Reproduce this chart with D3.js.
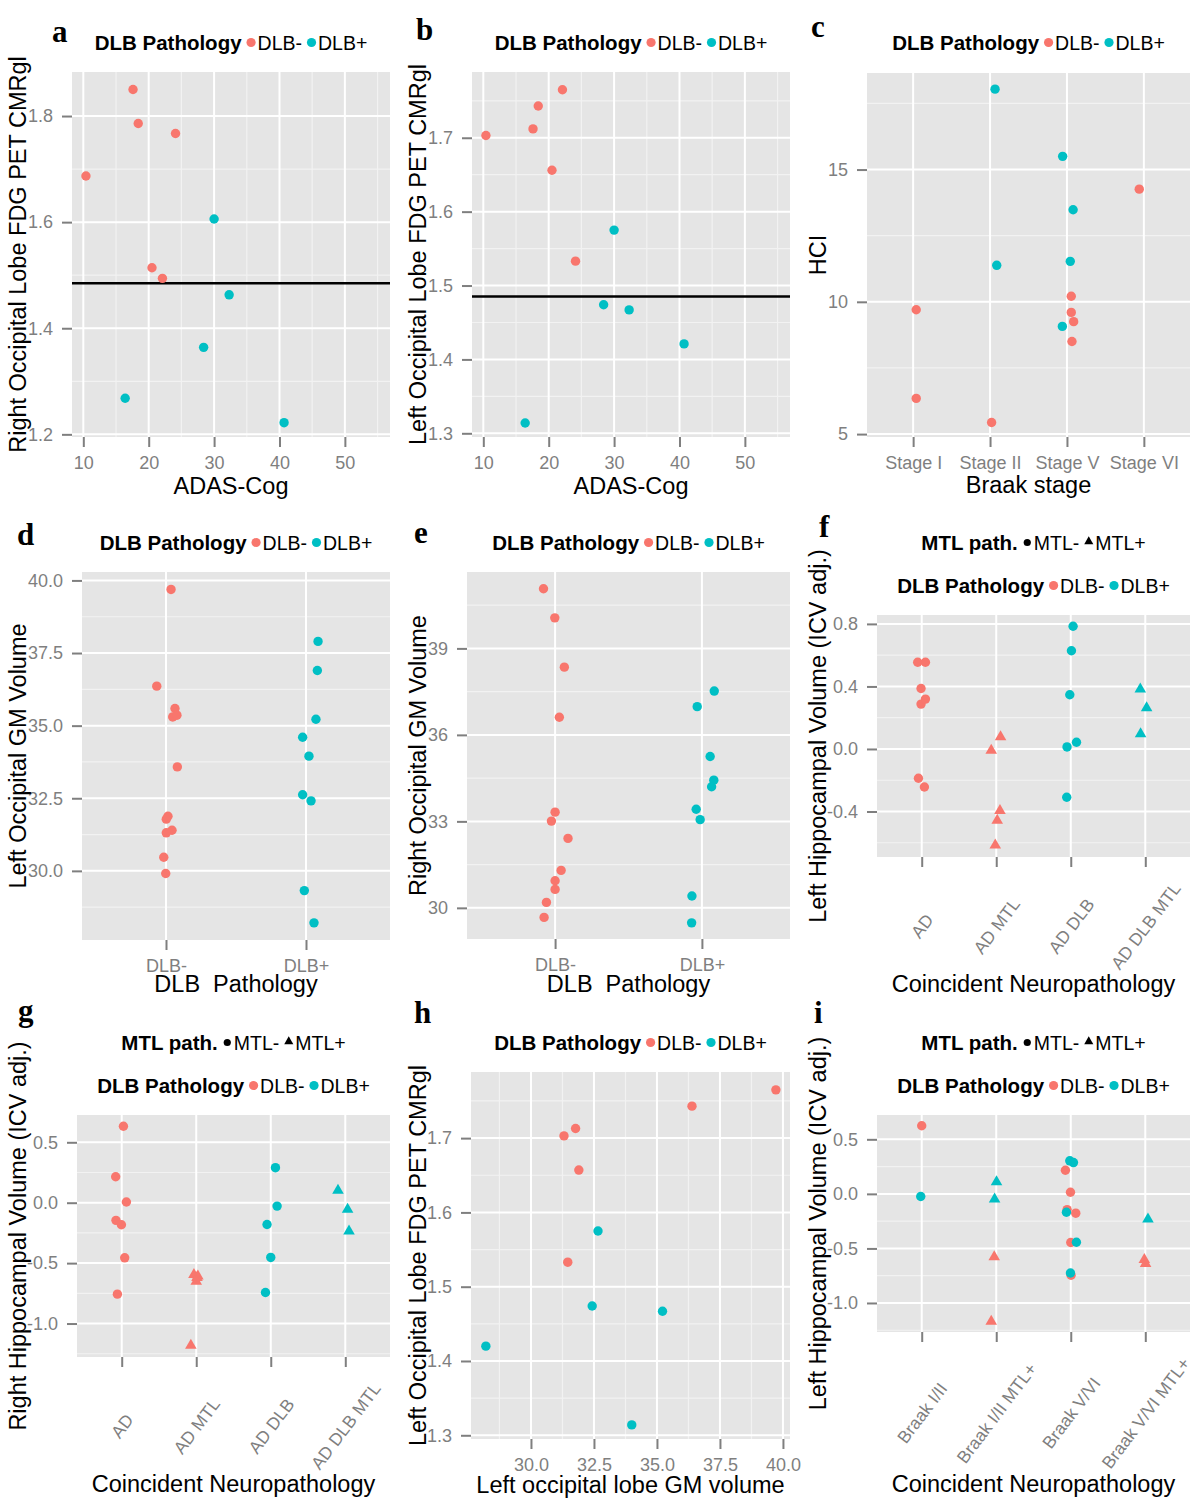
<!DOCTYPE html>
<html><head><meta charset="utf-8">
<script src="https://cdn.jsdelivr.net/npm/d3@7"></script>
<style>body{margin:0;background:#fff} svg{display:block;font-family:"Liberation Sans",Arial,sans-serif}</style>
</head><body><svg id="chart" width="1200" height="1500"></svg>
<script>
// ---------------- DATA ----------------
const dlbGroups = ["DLB-", "DLB+"];
const mtlGroups = ["MTL-", "MTL+"];
const petThreshold = 1.485;

// Panel a: ADAS-Cog vs Right occipital FDG PET CMRgl
const aAdasNeg = [17.6, 18.4, 24.1, 10.4, 20.5, 22.1];
const aRightPetNeg = [1.850, 1.786, 1.767, 1.687, 1.514, 1.494];
const aAdasPos = [30.0, 32.3, 28.4, 16.4, 40.7];
const aRightPetPos = [1.606, 1.463, 1.364, 1.268, 1.222];

// Panel b: ADAS-Cog vs Left occipital FDG PET CMRgl
const bAdasNeg = [10.4, 17.6, 18.4, 22.1, 20.5, 24.1];
const bLeftPetNeg = [1.703, 1.712, 1.743, 1.765, 1.656, 1.533];
const bAdasPos = [30.0, 28.4, 32.3, 40.7, 16.4];
const bLeftPetPos = [1.575, 1.474, 1.467, 1.421, 1.314];

// Panel c: Braak stage vs HCI
const braakStages = ["Stage I", "Stage II", "Stage V", "Stage VI"];
const cStage = ["Stage I","Stage I","Stage II","Stage II","Stage II","Stage V","Stage V","Stage V","Stage V","Stage V","Stage V","Stage V","Stage V","Stage VI"];
const cDlb = ["DLB-","DLB-","DLB+","DLB+","DLB-","DLB+","DLB+","DLB+","DLB-","DLB-","DLB-","DLB+","DLB-","DLB-"];
const cHci = [9.70, 6.35, 18.04, 11.38, 5.44, 15.50, 13.48, 11.53, 10.21, 9.60, 9.25, 9.07, 8.50, 14.26];
const cJitter = [0.04, 0.04, 0.065, 0.087, 0.02, -0.056, 0.08, 0.043, 0.056, 0.056, 0.087, -0.06, 0.065, -0.06];

// Panel d: DLB pathology vs left occipital GM volume
const dNegGM = [39.69, 36.36, 35.59, 35.30, 35.36, 33.58, 31.88, 31.78, 31.31, 31.40, 30.47, 29.91];
const dNegJitter = [0.036, -0.066, 0.064, 0.048, 0.078, 0.081, 0.014, 0.002, 0.002, 0.043, -0.016, -0.002];
const dPosGM = [37.90, 36.90, 35.22, 34.60, 33.95, 32.62, 32.41, 29.32, 28.21];
const dPosJitter = [0.086, 0.081, 0.071, -0.024, 0.021, -0.024, 0.036, -0.012, 0.057];

// Panel e: DLB pathology vs right occipital GM volume
const eNegGM = [41.07, 40.06, 38.35, 36.61, 33.32, 33.01, 32.41, 31.30, 30.94, 30.64, 30.19, 29.67];
const eNegJitter = [-0.079, -0.002, 0.063, 0.029, 0, -0.025, 0.088, 0.041, 0, 0, -0.059, -0.075];
const ePosGM = [37.52, 36.98, 35.25, 34.43, 34.20, 33.42, 33.06, 30.41, 29.48];
const ePosJitter = [0.084, -0.032, 0.056, 0.081, 0.066, -0.039, -0.012, -0.068, -0.070];

// Panels f, g: coincident neuropathology
const coincidentCats = ["AD", "AD MTL", "AD DLB", "AD DLB MTL"];
const fCat = ["AD","AD","AD","AD","AD","AD","AD","AD MTL","AD MTL","AD MTL","AD MTL","AD MTL","AD DLB","AD DLB","AD DLB","AD DLB","AD DLB","AD DLB","AD DLB MTL","AD DLB MTL","AD DLB MTL"];
const fLeftHippo = [0.555, 0.555, 0.387, 0.287, 0.319, -0.187, -0.243, 0.077, -0.009, -0.394, -0.457, -0.615, 0.785, 0.628, 0.347, 0.043, 0.013, -0.309, 0.383, 0.262, 0.096];
const fJitter = [-0.054, 0.05, -0.009, -0.009, 0.05, -0.044, 0.036, 0.058, -0.067, 0.05, 0.013, -0.013, 0.031, 0.009, -0.013, 0.077, -0.05, -0.054, -0.067, 0.018, -0.063];

const gCat = ["AD","AD","AD","AD","AD","AD","AD","AD MTL","AD MTL","AD MTL","AD MTL","AD MTL","AD DLB","AD DLB","AD DLB","AD DLB","AD DLB","AD DLB MTL","AD DLB MTL","AD DLB MTL"];
const gRightHippo = [0.633, 0.215, 0.006, -0.146, -0.182, -0.456, -0.757, -0.596, -0.608, -0.620, -0.652, -1.182, 0.290, -0.028, -0.180, -0.453, -0.743, 0.102, -0.055, -0.235];
const gJitter = [0.023, -0.081, 0.063, -0.077, -0.004, 0.04, -0.058, -0.031, 0.022, 0.01, 0, -0.072, 0.063, 0.085, -0.05, 0, -0.071, -0.098, 0.031, 0.05];

// Panel h: left occipital GM volume vs left occipital FDG PET
const hGMNeg = [39.72, 36.39, 31.77, 31.31, 31.90, 31.46];
const hPetNeg = [1.765, 1.743, 1.713, 1.703, 1.657, 1.533];
const hGMPos = [32.66, 32.43, 35.22, 28.21, 34.00];
const hPetPos = [1.575, 1.474, 1.467, 1.420, 1.314];

// Panel i: Braak / MTL categories
const braakCats = ["Braak I/II", "Braak I/II MTL+", "Braak V/VI", "Braak V/VI MTL+"];
const iCat = ["Braak I/II","Braak I/II","Braak I/II MTL+","Braak I/II MTL+","Braak I/II MTL+","Braak I/II MTL+","Braak V/VI","Braak V/VI","Braak V/VI","Braak V/VI","Braak V/VI","Braak V/VI","Braak V/VI","Braak V/VI","Braak V/VI","Braak V/VI","Braak V/VI","Braak V/VI MTL+","Braak V/VI MTL+","Braak V/VI MTL+"];
const iDlb = ["DLB-","DLB+","DLB+","DLB+","DLB-","DLB-","DLB+","DLB+","DLB-","DLB-","DLB-","DLB+","DLB-","DLB-","DLB+","DLB-","DLB+","DLB+","DLB-","DLB-"];
const iLeftHippo = [0.624, -0.024, 0.110, -0.049, -0.578, -1.168, 0.303, 0.287, 0.217, 0.015, -0.144, -0.168, -0.177, -0.446, -0.443, -0.746, -0.725, -0.232, -0.602, -0.639];
const iJitter = [0, -0.013, 0.004, -0.022, -0.027, -0.067, -0.013, 0.036, -0.072, -0.004, -0.049, -0.058, 0.067, 0, 0.076, 0.004, -0.004, 0.036, -0.013, 0.004];

// Axis ticks
const adasTicks = [10, 20, 30, 40, 50], adasMinor = [15, 25, 35, 45, 55], adasLabels = ["10","20","30","40","50"];
const aYTicks = [1.2, 1.4, 1.6, 1.8], aYMinor = [1.3, 1.5, 1.7], aYLabels = ["1.2","1.4","1.6","1.8"];
const petTicks = [1.3, 1.4, 1.5, 1.6, 1.7], petMinor = [1.35, 1.45, 1.55, 1.65, 1.75], petLabels = ["1.3","1.4","1.5","1.6","1.7"];
const hciTicks = [5, 10, 15], hciMinor = [7.5, 12.5, 17.5], hciLabels = ["5","10","15"];
const gmTicks = [30, 32.5, 35, 37.5, 40], gmMinor = [28.75, 31.25, 33.75, 36.25, 38.75], gmLabels = ["30.0","32.5","35.0","37.5","40.0"];
const eTicks = [30, 33, 36, 39], eMinor = [31.5, 34.5, 37.5, 40.5], eLabels = ["30","33","36","39"];
const fTicks = [-0.4, 0, 0.4, 0.8], fMinor = [-0.6, -0.2, 0.2, 0.6], fLabels = ["-0.4","0.0","0.4","0.8"];
const hipTicks = [-1, -0.5, 0, 0.5], hipMinor = [-1.25, -0.75, -0.25, 0.25], hipLabels = ["-1.0","-0.5","0.0","0.5"];

// ---------------- DRAWING ----------------
const FONT = '"Liberation Sans", Arial, sans-serif';
const svg = d3.select("#chart");
svg.append("rect").attr("width", 1200).attr("height", 1500).attr("fill", "#fff");
const color = d3.scaleOrdinal().domain(dlbGroups).range(["#F8766D", "#00BFC4"]);
const triPath = d3.symbol().type(d3.symbolTriangle).size(58)();
const triLegend = d3.symbol().type(d3.symbolTriangle).size(36)();

function legendRow(g, cx, baseline, title, items) {
  const row = g.append("g");
  const t = row.append("text").attr("y", baseline).attr("font-size", 20.5).attr("font-weight", "bold").attr("fill", "#000").text(title);
  let xpos = t.node().getComputedTextLength();
  items.forEach(it => {
    const kc = xpos + 9.5;
    if (it.shape === "triangle") row.append("path").attr("d", triLegend).attr("fill", it.color).attr("transform", `translate(${kc},${baseline - 8.5})`);
    else row.append("circle").attr("cx", kc).attr("cy", baseline - 7.5).attr("r", it.r).attr("fill", it.color);
    const lt = row.append("text").attr("x", kc + 6.5).attr("y", baseline).attr("font-size", 19.5).attr("fill", "#000").text(it.label);
    xpos = kc + 6.5 + lt.node().getComputedTextLength();
  });
  row.attr("transform", `translate(${cx - xpos / 2},0)`);
}

function drawPanel(p) {
  const g = svg.append("g");
  const b = p.box;
  g.append("rect").attr("x", b.x0).attr("y", b.y0).attr("width", b.x1 - b.x0).attr("height", b.y1 - b.y0).attr("fill", "#e5e5e5");
  const y = d3.scaleLinear().domain(p.yDomain).range([b.y1, b.y0]);
  const x = p.categories
    ? d3.scalePoint().domain(p.categories).range([b.x0, b.x1]).padding(0.6)
    : d3.scaleLinear().domain(p.xDomain).range([b.x0, b.x1]);

  const minor = g.append("g").attr("stroke", "#f2f2f2").attr("stroke-width", 1.2);
  minor.selectAll("line.ym").data(p.yMinor).join("line").attr("class", "ym")
    .attr("x1", b.x0).attr("x2", b.x1).attr("y1", d => y(d)).attr("y2", d => y(d));
  if (!p.categories) minor.selectAll("line.xm").data(p.xMinor).join("line").attr("class", "xm")
    .attr("y1", b.y0).attr("y2", b.y1).attr("x1", d => x(d)).attr("x2", d => x(d));
  const major = g.append("g").attr("stroke", "#fff").attr("stroke-width", 2);
  major.selectAll("line.yM").data(p.yTicks).join("line").attr("class", "yM")
    .attr("x1", b.x0).attr("x2", b.x1).attr("y1", d => y(d)).attr("y2", d => y(d));
  major.selectAll("line.xM").data(p.categories || p.xTicks).join("line").attr("class", "xM")
    .attr("y1", b.y0).attr("y2", b.y1).attr("x1", d => x(d)).attr("x2", d => x(d));

  // axes
  const ay = g.append("g").attr("transform", `translate(${b.x0},0)`)
    .call(d3.axisLeft(y).tickValues(p.yTicks).tickFormat((d, i) => p.yLabels[i]).tickSize(10).tickPadding(9));
  const xAxis = d3.axisBottom(x).tickSize(10).tickPadding(9.5);
  if (!p.categories) xAxis.tickValues(p.xTicks).tickFormat((d, i) => p.xLabels[i]);
  const ax = g.append("g").attr("transform", `translate(0,${b.y1})`).call(xAxis);
  [ay, ax].forEach(a => {
    a.attr("font-family", FONT).attr("font-size", 18);
    a.select(".domain").remove();
    a.selectAll(".tick line").attr("stroke", "#7f7f7f").attr("stroke-width", 2);
    a.selectAll(".tick text").attr("fill", "#7f7f7f");
  });
  if (p.rotate) {
    ax.selectAll(".tick text").attr("y", 0).attr("dy", "0.35em").attr("text-anchor", "middle")
      .attr("font-size", 17.5)
      .attr("transform", `translate(0,${p.rotate}) rotate(-53)`);
  }

  if (p.hline !== undefined) {
    g.append("line").attr("x1", b.x0).attr("x2", b.x1).attr("y1", y(p.hline)).attr("y2", y(p.hline))
      .attr("stroke", "#000").attr("stroke-width", 2.5);
  }

  // points
  const pts = p.points.slice().sort((a, c) => dlbGroups.indexOf(a.dlb) - dlbGroups.indexOf(c.dlb));
  const px = d => p.categories ? x(d.x) + d.j * x.step() : x(d.x);
  const circ = pts.filter(d => d.mtl !== "MTL+");
  const tris = pts.filter(d => d.mtl === "MTL+");
  g.append("g").selectAll("circle").data(circ).join("circle")
    .attr("cx", px).attr("cy", d => y(d.y)).attr("r", 4.7).attr("fill", d => color(d.dlb));
  g.append("g").selectAll("path").data(tris).join("path")
    .attr("d", triPath).attr("transform", d => `translate(${px(d)},${y(d.y)})`).attr("fill", d => color(d.dlb));

  // titles
  g.append("text").attr("x", (b.x0 + b.x1) / 2).attr("y", p.xTitleY).attr("text-anchor", "middle")
    .attr("font-size", 23.5).attr("fill", "#000").style("white-space", "pre").text(p.xTitle);
  g.append("text").attr("transform", `translate(${p.yTitleX},${(b.y0 + b.y1) / 2}) rotate(-90)`)
    .attr("text-anchor", "middle").attr("font-size", 23.5).attr("fill", "#000").text(p.yTitle);
  g.append("text").attr("x", p.letter[1]).attr("y", p.letter[2]).attr("font-family", '"Liberation Serif", "Times New Roman", serif')
    .attr("font-weight", "bold").attr("font-size", 31).attr("fill", "#000").text(p.letter[0]);

  // legends
  const cx = (b.x0 + b.x1) / 2;
  if (p.mtlLegendY) {
    legendRow(g, cx, p.mtlLegendY, "MTL path.", [
      { label: mtlGroups[0], shape: "circle", color: "#000", r: 3.6 },
      { label: mtlGroups[1], shape: "triangle", color: "#000" }]);
  }
  legendRow(g, cx, p.dlbLegendY, "DLB Pathology", dlbGroups.map(k => ({ label: k, shape: "circle", color: color(k), r: 4.6 })));
}

const zip = (xs, ys, dlb) => xs.map((v, i) => ({ x: v, y: ys[i], dlb }));
const zipCat = (cats, vals, jit, dlbs) => cats.map((c, i) => ({ x: c, y: vals[i], j: jit[i], dlb: dlbs[i], mtl: /MTL/.test(c) ? "MTL+" : "MTL-" }));
const coincidentDlb = c => /DLB/.test(c) ? "DLB+" : "DLB-";

drawPanel({ letter: ["a", 52, 42], box: { x0: 72, x1: 390, y0: 72, y1: 437 },
  xDomain: [8.27, 56.9], yDomain: [1.195, 1.883],
  xTicks: adasTicks, xMinor: adasMinor, xLabels: adasLabels, yTicks: aYTicks, yMinor: aYMinor, yLabels: aYLabels,
  hline: petThreshold, points: zip(aAdasNeg, aRightPetNeg, "DLB-").concat(zip(aAdasPos, aRightPetPos, "DLB+")),
  xTitle: "ADAS-Cog", xTitleY: 494, yTitle: "Right Occipital Lobe FDG PET CMRgl", yTitleX: 26, dlbLegendY: 50 });

drawPanel({ letter: ["b", 416, 40], box: { x0: 472, x1: 790, y0: 72, y1: 437 },
  xDomain: [8.27, 56.9], yDomain: [1.295, 1.789],
  xTicks: adasTicks, xMinor: adasMinor, xLabels: adasLabels, yTicks: petTicks, yMinor: petMinor, yLabels: petLabels,
  hline: petThreshold, points: zip(bAdasNeg, bLeftPetNeg, "DLB-").concat(zip(bAdasPos, bLeftPetPos, "DLB+")),
  xTitle: "ADAS-Cog", xTitleY: 494, yTitle: "Left Occipital Lobe FDG PET CMRgl", yTitleX: 426, dlbLegendY: 50 });

drawPanel({ letter: ["c", 811, 37], box: { x0: 867, x1: 1190, y0: 73, y1: 437 },
  categories: braakStages, yDomain: [4.89, 18.65],
  yTicks: hciTicks, yMinor: hciMinor, yLabels: hciLabels,
  points: zipCat(cStage, cHci, cJitter, cDlb),
  xTitle: "Braak stage", xTitleY: 493, yTitle: "HCI", yTitleX: 826, dlbLegendY: 50 });

drawPanel({ letter: ["d", 17, 545], box: { x0: 82, x1: 390, y0: 572, y1: 940 },
  categories: dlbGroups, yDomain: [27.62, 40.29],
  yTicks: gmTicks, yMinor: gmMinor, yLabels: gmLabels,
  points: zipCat(dNegGM.map(() => "DLB-"), dNegGM, dNegJitter, dNegGM.map(() => "DLB-"))
    .concat(zipCat(dPosGM.map(() => "DLB+"), dPosGM, dPosJitter, dPosGM.map(() => "DLB+"))),
  xTitle: "DLB  Pathology", xTitleY: 992, yTitle: "Left Occipital GM Volume", yTitleX: 26, dlbLegendY: 550 });

drawPanel({ letter: ["e", 414, 543], box: { x0: 467, x1: 790, y0: 572, y1: 939 },
  categories: dlbGroups, yDomain: [28.92, 41.65],
  yTicks: eTicks, yMinor: eMinor, yLabels: eLabels,
  points: zipCat(eNegGM.map(() => "DLB-"), eNegGM, eNegJitter, eNegGM.map(() => "DLB-"))
    .concat(zipCat(ePosGM.map(() => "DLB+"), ePosGM, ePosJitter, ePosGM.map(() => "DLB+"))),
  xTitle: "DLB  Pathology", xTitleY: 992, yTitle: "Right Occipital GM Volume", yTitleX: 426, dlbLegendY: 550 });

drawPanel({ letter: ["f", 819, 537], box: { x0: 877, x1: 1190, y0: 615, y1: 857 },
  categories: coincidentCats, yDomain: [-0.691, 0.857], rotate: 69,
  yTicks: fTicks, yMinor: fMinor, yLabels: fLabels,
  points: zipCat(fCat, fLeftHippo, fJitter, fCat.map(coincidentDlb)),
  xTitle: "Coincident Neuropathology", xTitleY: 992, yTitle: "Left Hippocampal Volume (ICV adj.)", yTitleX: 826,
  mtlLegendY: 550, dlbLegendY: 593 });

drawPanel({ letter: ["g", 18, 1021], box: { x0: 77, x1: 390, y0: 1115, y1: 1357 },
  categories: coincidentCats, yDomain: [-1.277, 0.726], rotate: 69,
  yTicks: hipTicks, yMinor: hipMinor, yLabels: hipLabels,
  points: zipCat(gCat, gRightHippo, gJitter, gCat.map(coincidentDlb)),
  xTitle: "Coincident Neuropathology", xTitleY: 1492, yTitle: "Right Hippocampal Volume (ICV adj.)", yTitleX: 26,
  mtlLegendY: 1050, dlbLegendY: 1093 });

drawPanel({ letter: ["h", 414, 1023], box: { x0: 471, x1: 790, y0: 1072, y1: 1439 },
  xDomain: [27.62, 40.28], yDomain: [1.295, 1.789],
  xTicks: gmTicks, xMinor: gmMinor, xLabels: gmLabels, yTicks: petTicks, yMinor: petMinor, yLabels: petLabels,
  points: zip(hGMNeg, hPetNeg, "DLB-").concat(zip(hGMPos, hPetPos, "DLB+")),
  xTitle: "Left occipital lobe GM volume", xTitleY: 1493, yTitle: "Left Occipital Lobe FDG PET CMRgl", yTitleX: 426, dlbLegendY: 1050 });

drawPanel({ letter: ["i", 814, 1023], box: { x0: 877, x1: 1190, y0: 1115, y1: 1332 },
  categories: braakCats, yDomain: [-1.266, 0.723], rotate: 81,
  yTicks: hipTicks, yMinor: hipMinor, yLabels: hipLabels,
  points: zipCat(iCat, iLeftHippo, iJitter, iDlb),
  xTitle: "Coincident Neuropathology", xTitleY: 1492, yTitle: "Left Hippocampal Volume (ICV adj.)", yTitleX: 826,
  mtlLegendY: 1050, dlbLegendY: 1093 });
</script></body></html>
